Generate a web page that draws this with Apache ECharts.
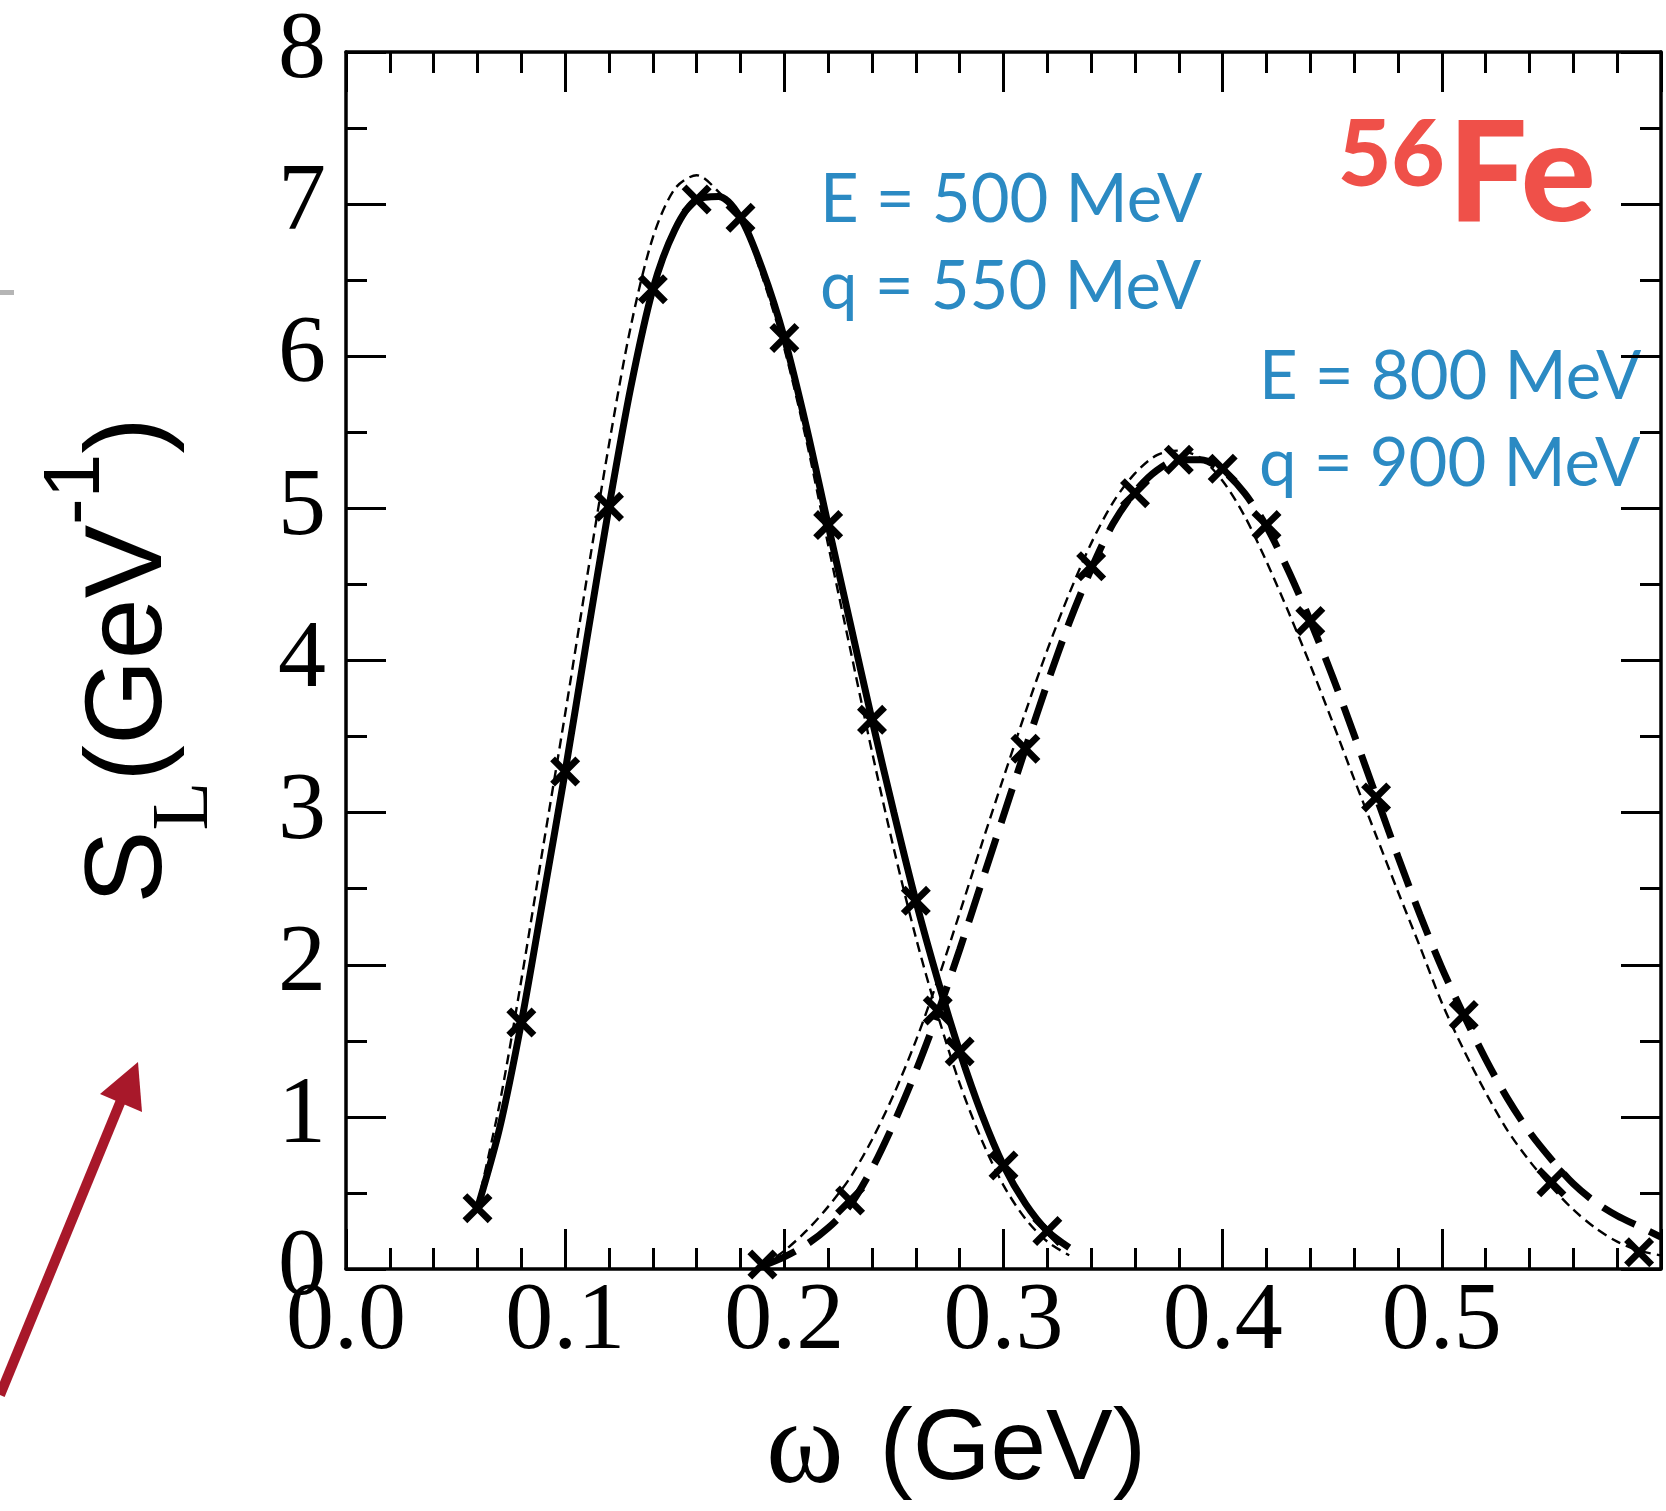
<!DOCTYPE html>
<html><head><meta charset="utf-8">
<script src="https://cdn.jsdelivr.net/npm/echarts@6/dist/echarts.min.js"></script>
<style>html,body{margin:0;padding:0;background:#fff}#c{width:1666px;height:1511px}</style>
</head><body><div id="c"></div>
<script>
// ---- data (omega in GeV, S_L in GeV^-1) ----
const omegaA = [0.06,0.07,0.08,0.09,0.10,0.11,0.12,0.13,0.14,0.15,0.16,0.17,0.18,0.19,0.20,0.21,0.22,0.23,0.24,0.25,0.26,0.27,0.28,0.29,0.30,0.31,0.32,0.33];
const slA     = [0.40,0.92,1.62,2.44,3.27,4.15,5.01,5.80,6.44,6.83,7.03,7.05,6.91,6.57,6.12,5.54,4.89,4.25,3.61,3.00,2.42,1.90,1.43,1.02,0.68,0.43,0.25,0.14];
const slAref  = [0.42,1.08,1.90,2.78,3.65,4.55,5.42,6.20,6.78,7.10,7.19,7.08,6.90,6.52,6.05,5.45,4.76,4.08,3.40,2.76,2.18,1.67,1.22,0.85,0.55,0.33,0.18,0.09];
const markA_x = [0.06,0.08,0.10,0.12,0.14,0.16,0.18,0.20,0.22,0.24,0.26,0.28,0.30,0.32];
const markA_y = [0.40,1.62,3.27,5.01,6.44,7.03,6.91,6.12,4.89,3.61,2.42,1.43,0.68,0.25];

const omegaB = [0.19,0.20,0.21,0.22,0.23,0.24,0.25,0.26,0.27,0.28,0.29,0.30,0.31,0.32,0.33,0.34,0.35,0.36,0.37,0.38,0.39,0.40,0.41,0.42,0.43,0.44,0.45,0.46,0.47,0.48,0.49,0.50,0.51,0.52,0.53,0.54,0.55,0.56,0.57,0.58,0.59,0.60];
const slB     = [0.02,0.08,0.16,0.27,0.42,0.66,0.96,1.30,1.68,2.10,2.54,2.98,3.42,3.85,4.25,4.60,4.90,5.11,5.25,5.32,5.32,5.25,5.10,4.88,4.59,4.26,3.90,3.51,3.11,2.71,2.33,1.98,1.67,1.38,1.12,0.90,0.72,0.56,0.44,0.35,0.28,0.21];
const slBref  = [0.02,0.12,0.25,0.41,0.60,0.85,1.15,1.50,1.90,2.34,2.79,3.23,3.66,4.07,4.44,4.77,5.04,5.23,5.35,5.38,5.33,5.18,4.95,4.65,4.32,3.97,3.60,3.22,2.85,2.48,2.12,1.75,1.44,1.16,0.91,0.71,0.54,0.39,0.27,0.18,0.12,0.09];
const markB_x = [0.19,0.23,0.27,0.31,0.34,0.36,0.38,0.40,0.42,0.44,0.47,0.51,0.55,0.59];
const markB_y = [0.03,0.45,1.70,3.42,4.62,5.10,5.32,5.26,4.89,4.26,3.10,1.67,0.57,0.11];

const xTickLabels = ['0.0','0.1','0.2','0.3','0.4','0.5'];
const yTickLabels = ['0','1','2','3','4','5','6','7','8'];
const labelA = ['E = 500 MeV','q = 550 MeV'];
const labelB = ['E = 800 MeV','q = 900 MeV'];

const pair = (xs, ys) => xs.map((x, i) => [x, ys[i]]);
const XSYM = 'path://M0,1.6 L1.6,0 L5,3.4 L8.4,0 L10,1.6 L6.6,5 L10,8.4 L8.4,10 L5,6.6 L1.6,10 L0,8.4 L3.4,5 Z';

const axLine = {lineStyle:{color:'#000', width:3.5}};
const tickMaj = (len) => ({inside:true, length:len, lineStyle:{color:'#000', width:3}});
const serif = 'Liberation Serif';
const sans = 'Liberation Sans';

const chart = echarts.init(document.getElementById('c'), null, {renderer:'canvas'});
chart.setOption({
  animation:false,
  backgroundColor:'#fff',
  grid:{left:346, right:5, top:52, bottom:242, containLabel:false, outerBoundsMode:'none'},
  xAxis:[{
    type:'value', min:0, max:0.6, interval:0.1, position:'bottom',
    axisLine:axLine, axisTick:tickMaj(40),
    minorTick:{show:true, splitNumber:5, length:21, lineStyle:{color:'#000', width:3}},
    splitLine:{show:false}, minorSplitLine:{show:false},
    axisLabel:{margin:6, color:'#000', fontFamily:serif, fontSize:96,
      formatter:(v)=>{const k=Math.round(v*10); return xTickLabels[k] ?? '';}},
    name:'{w|ω}{n| (GeV)}', nameLocation:'middle', nameGap:132,
    nameTextStyle:{padding:[0,95,0,0], rich:{
      w:{fontFamily:serif, fontSize:118, lineHeight:100, color:'#000'},
      n:{fontFamily:sans, fontSize:100, lineHeight:100, color:'#000', padding:[0,0,0,8]}}}
  },{
    type:'value', min:0, max:0.6, interval:0.1, position:'top',
    axisLine:{...axLine, onZero:false}, axisTick:tickMaj(40),
    minorTick:{show:true, splitNumber:5, length:21, lineStyle:{color:'#000', width:3}},
    splitLine:{show:false}, axisLabel:{show:false}
  }],
  yAxis:[{
    type:'value', min:0, max:8, interval:1, position:'left',
    axisLine:axLine, axisTick:tickMaj(40),
    minorTick:{show:true, splitNumber:2, length:21, lineStyle:{color:'#000', width:3}},
    splitLine:{show:false}, minorSplitLine:{show:false},
    axisLabel:{margin:20, color:'#000', fontFamily:serif, fontSize:96,
      formatter:(v)=>yTickLabels[Math.round(v)] ?? ''},
    name:'{s|S}{sub|L}{n|(GeV}{sup|-1}{n|)}', nameLocation:'middle', nameGap:160,
    nameTextStyle:{rich:{
      s:{fontFamily:sans, fontSize:110, lineHeight:110, color:'#000'},
      n:{fontFamily:sans, fontSize:110, lineHeight:110, color:'#000'},
      sub:{fontFamily:serif, fontSize:80, lineHeight:110, color:'#000', padding:[110,0,0,0]},
      sup:{fontFamily:sans, fontSize:80, lineHeight:110, color:'#000', padding:[0,0,108,0]}}}
  },{
    type:'value', min:0, max:8, interval:1, position:'right',
    axisLine:{...axLine, onZero:false}, axisTick:tickMaj(40),
    minorTick:{show:true, splitNumber:2, length:21, lineStyle:{color:'#000', width:3}},
    splitLine:{show:false}, axisLabel:{show:false}
  }],
  series:[
    {type:'line', name:'E500 ref', data:pair(omegaA, slAref), symbol:'none', smooth:0.3,
      lineStyle:{color:'#000', width:2.4, type:[10,6]}, z:2},
    {type:'line', name:'E500', data:pair(omegaA, slA), symbol:'none', smooth:0.3,
      lineStyle:{color:'#000', width:7}, z:3},
    {type:'line', name:'E800 ref', data:pair(omegaB, slBref), symbol:'none', smooth:0.3,
      lineStyle:{color:'#000', width:2.4, type:[10,6]}, z:2},
    {type:'line', name:'E800', data:pair(omegaB, slB), symbol:'none', smooth:0.3,
      lineStyle:{color:'#000', width:7, type:[36,16]}, z:3},
    {type:'scatter', name:'E500 pts', data:pair(markA_x, markA_y), symbol:XSYM, symbolSize:30,
      itemStyle:{color:'#000', opacity:1}, z:4},
    {type:'scatter', name:'E800 pts', data:pair(markB_x, markB_y), symbol:XSYM, symbolSize:30,
      itemStyle:{color:'#000', opacity:1}, z:4}
  ],
  graphic:[
    {type:'rect', shape:{x:0, y:290, width:14, height:5}, style:{fill:'#b5b5b5'}},
    {type:'line', shape:{x1:0, y1:1395, x2:122, y2:1098}, style:{stroke:'#a8182a', lineWidth:10}},
    {type:'polygon', shape:{points:[[138,1062],[100,1094],[142,1112]]}, style:{fill:'#a8182a'}},
    {type:'text', x:820, y:200, style:{text:labelA[0], fill:'#2b8ac3', fontFamily:'Lato', fontSize:67, align:'left', verticalAlign:'middle'}},
    {type:'text', x:820, y:287, style:{text:labelA[1], fill:'#2b8ac3', fontFamily:'Lato', fontSize:67, align:'left', verticalAlign:'middle'}},
    {type:'text', x:1259, y:377, style:{text:labelB[0], fill:'#2b8ac3', fontFamily:'Lato', fontSize:67, align:'left', verticalAlign:'middle'}},
    {type:'text', x:1259, y:464, style:{text:labelB[1], fill:'#2b8ac3', fontFamily:'Lato', fontSize:67, align:'left', verticalAlign:'middle'}},
    {type:'text', x:1338, y:156, style:{text:'56', fill:'#ef5049', fontFamily:'Lato', fontWeight:900, fontSize:92, align:'left', verticalAlign:'middle'}},
    {type:'text', x:1448, y:176, style:{text:'Fe', fill:'#ef5049', fontFamily:'Lato', fontWeight:900, fontSize:140, align:'left', verticalAlign:'middle'}}
  ]
});
</script></body></html>
